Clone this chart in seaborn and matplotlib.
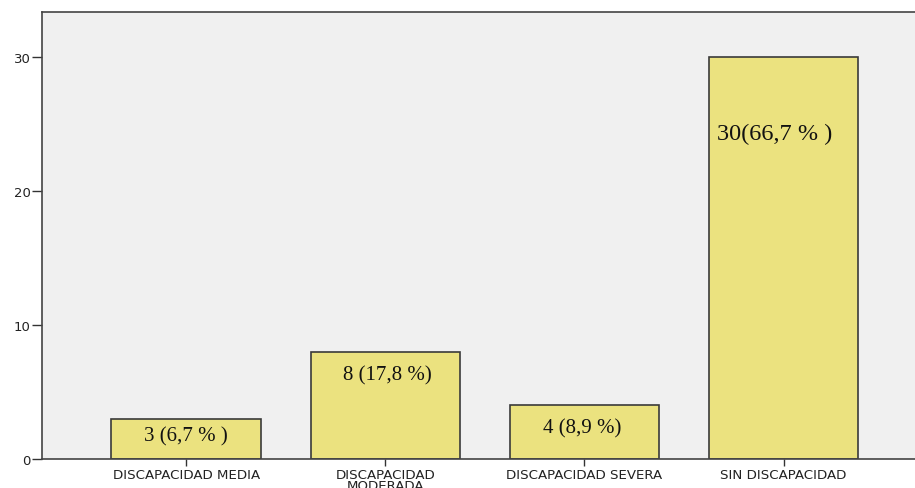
import matplotlib
matplotlib.use("Agg")
import matplotlib.pyplot as plt
import seaborn as sns
import pandas as pd

categories = ["DISCAPACIDAD MEDIA", "DISCAPACIDAD\nMODERADA", "DISCAPACIDAD SEVERA", "SIN DISCAPACIDAD"]
counts = [3, 8, 4, 30]
bar_labels = ["3 (6,7 % )", "8 (17,8 %)", "4 (8,9 %)", "30(66,7 % )"]
label_y = [1.72, 6.27, 2.3, 24.3]
label_x_offset = [0.0, 0.01, -0.01, -0.045]
label_size = [15, 15, 15, 17.5]
yticks = [0, 10, 20, 30]

df = pd.DataFrame({"cat": categories, "count": counts})

sns.set_style("white")
plt.rcParams['font.family'] = ['DejaVu Sans']

fig = plt.figure(figsize=(9.15, 4.89), dpi=100)
ax = fig.add_axes([0.0459, 0.0593, 0.9541, 0.9141])
ax.set_facecolor("#F0F0F0")

sns.barplot(data=df, x="cat", y="count", color="#EBE27F", width=0.75,
            edgecolor="#3a3a3a", linewidth=1.2, saturation=1, ax=ax)

for i, (lab, yy) in enumerate(zip(bar_labels, label_y)):
    ax.text(i + label_x_offset[i], yy, lab, ha="center", va="center",
            fontsize=label_size[i], family=["Liberation Serif", "DejaVu Serif"], color="#111111")

ax.set_xlim(-0.724, 3.66)
ax.set_ylim(0, 33.36)
ax.set_yticks(yticks)
ax.set_xlabel("")
ax.set_ylabel("")
ax.tick_params(axis="y", direction="out", length=7, width=1, color="#333333",
               labelsize=9.5, pad=1, left=True, labelcolor="#222222")
ax.tick_params(axis="x", direction="out", length=5, width=1, color="#333333",
               labelsize=9.6, pad=1.5, bottom=True, labelcolor="#222222")
for lbl in ax.get_xticklabels():
    lbl.set_linespacing(0.78)
for s in ["left", "top", "bottom"]:
    ax.spines[s].set_color("#444444")
    ax.spines[s].set_linewidth(1.2)
ax.spines["right"].set_visible(False)

fig.savefig("out.png", dpi=100)
